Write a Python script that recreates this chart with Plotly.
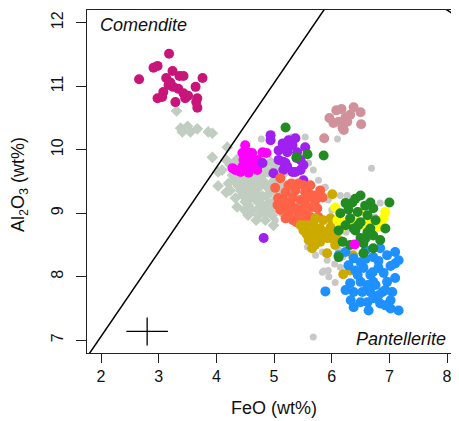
import plotly.graph_objects as go

# ---------------- data (FeO wt%, Al2O3 wt%) ----------------
gray_feo = [4.78, 5.54, 6.10, 6.69, 5.60, 5.51, 5.87, 6.15, 6.27, 6.84, 5.58, 5.84, 5.92, 5.84, 6.06,
            6.15, 6.75, 5.75, 5.63, 5.94, 5.92, 6.10, 5.68, 4.85, 5.02, 5.89, 5.72, 6.12, 5.94, 6.15,
            5.75, 5.97, 5.86, 6.19, 5.13, 5.39, 5.18, 5.68, 5.77, 5.30, 6.00, 6.25, 6.05, 5.95]
gray_al = [10.17, 10.20, 10.17, 9.71, 9.79, 9.44, 9.40, 9.28, 9.28, 9.16, 8.47, 8.39, 8.26, 8.07, 7.91,
           8.31, 8.94, 9.28, 9.24, 9.21, 8.71, 8.53, 7.05, 8.89, 8.89, 9.41, 8.34, 8.42, 8.10, 8.15,
           8.62, 8.76, 8.09, 8.31, 10.07, 9.99, 9.02, 9.68, 9.52, 10.20, 9.05, 8.70, 8.20, 8.00]

diam_feo = [3.31, 3.38, 3.50, 3.55, 3.67, 3.86, 3.93, 3.41, 4.19, 3.93, 4.03, 4.17, 4.36, 4.85, 4.55,
            4.24, 4.35, 4.28, 4.42, 4.50, 4.38, 4.55, 4.68, 4.80, 4.90, 4.45, 4.59, 4.73, 4.85, 4.97,
            5.07, 4.33, 4.50, 4.68, 4.80, 4.94, 5.07, 4.62, 4.76, 4.90, 5.02, 5.18, 4.73, 4.90, 5.11,
            5.25, 4.21, 4.10, 4.62, 4.76, 4.94, 5.02, 5.20, 4.52, 4.69, 4.83, 4.97, 4.59, 4.42, 4.24,
            5.18, 5.28, 5.37, 4.99, 4.80, 4.49, 4.64,
            4.31, 4.49, 4.76, 4.90, 5.04, 4.42, 4.59, 4.73, 4.87, 5.00, 4.49, 4.35, 4.69, 4.83, 5.11,
            5.14, 5.21, 4.80, 4.55, 4.17, 4.03, 4.69, 5.28]
diam_al = [10.61, 10.34, 10.37, 10.28, 10.33, 10.28, 10.26, 10.28, 10.04, 9.88, 9.65, 9.33, 9.10, 8.89, 9.13,
           9.76, 9.84, 9.60, 9.55, 9.68, 9.43, 9.49, 9.55, 9.60, 9.65, 9.29, 9.33, 9.40, 9.44, 9.49,
           9.55, 9.24, 9.18, 9.21, 9.27, 9.33, 9.36, 9.05, 9.10, 9.16, 9.21, 9.24, 8.97, 9.02, 9.08,
           9.13, 9.47, 9.68, 9.76, 9.84, 9.81, 9.71, 9.65, 9.36, 9.30, 9.11, 8.97, 9.60, 9.71, 9.36,
           8.97, 9.29, 9.13, 8.81, 9.52, 9.44, 9.43,
           9.52, 9.58, 9.46, 9.40, 9.44, 9.36, 9.24, 9.18, 9.27, 9.08, 9.05, 9.63, 9.68, 9.76, 9.76,
           9.44, 9.36, 9.02, 8.97, 9.84, 9.43, 8.89, 9.02]

crimson_feo = [3.18, 2.98, 2.91, 2.66, 3.24, 3.13, 3.36, 3.43, 3.76, 3.17, 3.25, 3.34, 3.64, 3.08, 3.43,
               2.98, 3.06, 3.29, 3.46, 3.67, 3.65, 3.67, 3.20, 3.51]
crimson_al = [11.51, 11.32, 11.29, 11.11, 11.24, 11.13, 11.16, 11.16, 11.13, 11.02, 10.99, 10.96, 10.99, 10.91, 10.89,
              10.81, 10.83, 10.75, 10.81, 10.81, 10.75, 10.66, 11.06, 10.85]

pink_feo = [6.17, 6.38, 6.50, 5.96, 6.03, 6.12, 6.24, 6.32, 6.19, 6.21, 6.51, 5.87, 6.08, 6.27]
pink_al = [10.64, 10.67, 10.59, 10.50, 10.42, 10.44, 10.51, 10.55, 10.34, 10.31, 10.40, 10.18, 10.62, 10.44]

magenta_feo = [4.54, 4.45, 4.62, 4.80, 4.87, 4.47, 4.59, 4.71, 4.45, 4.56, 4.68, 4.33, 4.42, 4.56, 4.71, 4.50, 4.28]
magenta_al = [9.96, 9.95, 9.95, 9.96, 9.95, 9.84, 9.85, 9.84, 9.73, 9.76, 9.73, 9.68, 9.65, 9.64, 9.68, 10.07, 9.71]

purple_feo = [4.94, 5.15, 5.25, 5.37, 5.23, 5.40, 5.54, 5.08, 5.20, 4.99, 5.16, 5.32, 5.46, 5.51, 4.80,
              5.23, 5.46, 5.51, 5.23, 5.37, 5.16, 4.82, 4.94, 5.32, 5.39, 5.08]
purple_al = [10.23, 10.10, 10.15, 10.18, 10.02, 9.96, 10.04, 9.84, 9.79, 9.63, 9.68, 9.65, 9.68, 9.52, 9.79,
             9.96, 9.84, 9.76, 9.73, 9.65, 9.81, 8.61, 10.15, 10.07, 9.87, 9.99]

tomato_feo = [5.11, 5.02, 5.25, 5.51, 5.63, 5.84, 5.16, 5.33, 5.58, 5.75, 5.28, 5.46, 5.63, 5.33, 5.11,
              5.51, 5.37, 5.20, 5.46, 5.54, 5.72, 5.28, 5.42, 5.20, 5.66, 5.56, 5.30, 5.07, 5.80,
              5.42, 5.59, 5.18, 5.37, 5.54, 5.68, 5.77, 5.25, 5.06, 5.39]
tomato_al = [9.55, 9.40, 9.44, 9.44, 9.44, 9.25, 9.21, 9.25, 9.24, 9.08, 9.05, 9.05, 8.94, 8.89, 9.05,
             8.86, 9.36, 9.33, 9.21, 9.33, 9.21, 9.16, 8.97, 8.92, 9.10, 8.99, 9.47, 9.24, 9.36,
             9.47, 9.33, 9.11, 9.08, 9.13, 9.28, 8.94, 8.99, 9.13, 8.86]

gold_feo = [6.01, 5.51, 5.68, 5.85, 5.98, 5.77, 5.92, 5.66, 5.92, 6.06, 5.68, 6.32, 6.20, 6.37,
            5.80, 5.89, 5.63, 5.54, 5.72, 5.80, 6.03, 6.12, 5.60, 5.98, 5.46,
            5.72, 5.84, 5.98, 5.71, 5.56]
gold_al = [9.30, 8.73, 8.84, 8.89, 8.78, 8.65, 8.61, 8.45, 8.37, 8.50, 8.58, 8.10, 8.04, 8.34,
           8.76, 8.70, 8.70, 8.81, 8.92, 8.55, 8.67, 8.58, 8.58, 8.92, 8.81,
           8.76, 8.63, 8.61, 8.50, 8.68]

blue_feo = [6.24, 6.38, 7.10, 7.10, 5.89, 6.38, 7.16, 7.02, 6.67, 6.81, 6.55, 6.50, 6.72, 6.96, 6.38,
            6.62, 6.84, 7.02, 6.45, 6.67, 6.90, 6.96, 6.72, 6.50, 6.32, 6.62, 6.88, 7.05, 6.72, 6.12,
            6.29, 6.59, 6.84,
            6.59, 6.81, 7.02, 6.41, 6.71, 6.93, 6.53, 6.81, 6.50, 6.93, 7.10, 6.24, 6.64, 6.33, 6.76, 7.16]
blue_al = [8.39, 8.29, 8.39, 8.21, 7.77, 7.52, 7.47, 7.63, 7.76, 8.14, 8.14, 7.92, 7.92, 7.92, 7.76,
           7.60, 7.58, 7.50, 8.03, 8.03, 8.06, 8.34, 8.31, 8.23, 7.90, 7.87, 7.76, 7.76, 7.66, 8.34,
           8.18, 8.42, 8.45,
           8.28, 8.25, 8.17, 8.10, 8.07, 7.79, 7.76, 7.71, 7.60, 7.55, 7.98, 7.79, 7.47, 7.63, 7.87, 8.26]

yellow_feo = [6.06, 6.90, 6.81, 6.46, 6.24, 6.55, 6.15, 6.10, 6.38, 6.79, 6.58, 6.67, 6.93]
yellow_al = [9.09, 8.92, 8.81, 9.02, 8.86, 8.81, 8.76, 8.89, 8.86, 8.78, 8.61, 8.86, 9.02]

green_feo = [6.50, 6.36, 6.67, 6.72, 7.00, 6.24, 6.15, 6.45, 6.62, 6.32, 6.50, 6.38, 6.12, 6.62, 6.72,
             6.93, 6.50, 6.19, 6.55, 6.72, 6.55, 6.12, 5.20, 5.39, 5.58, 5.86, 6.41, 6.29, 6.58,
             6.41, 6.76, 6.24, 6.59, 6.32, 6.84, 6.46, 6.67]
green_al = [9.28, 9.17, 9.17, 9.08, 9.17, 9.16, 9.00, 9.02, 8.97, 8.92, 8.86, 8.76, 8.73, 8.70, 8.65,
            8.76, 8.61, 8.55, 8.53, 8.45, 8.37, 8.31, 10.35, 9.88, 9.93, 9.91, 8.73, 9.06, 9.12,
            9.23, 8.89, 8.81, 8.61, 8.50, 8.58, 8.81, 8.76]

single_feo = [6.40]
single_al = [8.51]

# boundary lines: Al2O3 = slope * FeO + intercept, drawn over FeO spans
line_slope = [1.33, -0.58]
line_icpt = [4.4, 16.84]
line_span = [(1.70, 5.95), (7.95, 8.40)]

# analytical uncertainty cross
err_feo, err_al = [2.80], [7.14]
err_dx, err_dy = [0.36], [0.22]

x_ticks = [2, 3, 4, 5, 6, 7, 8]
y_ticks = [7, 8, 9, 10, 11, 12]

FONT = "Liberation Sans, Arial, sans-serif"

fig = go.Figure()

def dots(x, y, color, size=10, symbol="circle"):
    fig.add_trace(go.Scatter(x=x, y=y, mode="markers",
                             marker=dict(color=color, size=size, symbol=symbol, line=dict(width=0)),
                             showlegend=False, hoverinfo="skip"))

dots(gray_feo, gray_al, "#C8C8C8", size=7)
dots(diam_feo, diam_al, "#C1CDC1", size=9, symbol="diamond")
dots(crimson_feo, crimson_al, "#C8157A")
dots(pink_feo, pink_al, "#D1919B")
dots(magenta_feo, magenta_al, "#FF00FF")
dots(purple_feo, purple_al, "#A020F0")
dots(tomato_feo, tomato_al, "#FF6347")
dots(gold_feo, gold_al, "#CDAA00")
dots(blue_feo, blue_al, "#1E90FF")
dots(yellow_feo, yellow_al, "#FFFF00")
dots(green_feo, green_al, "#228B22")
dots(single_feo, single_al, "#FF00FF")

for m, c, (x0, x1) in zip(line_slope, line_icpt, line_span):
    fig.add_trace(go.Scatter(x=[x0, x1], y=[m * x0 + c, m * x1 + c], mode="lines",
                             line=dict(color="black", width=1.5),
                             showlegend=False, hoverinfo="skip"))

fig.add_trace(go.Scatter(x=err_feo, y=err_al, mode="markers",
                         marker=dict(size=0.1, color="black"),
                         error_x=dict(type="data", array=err_dx, width=0, thickness=1.3, color="black"),
                         error_y=dict(type="data", array=err_dy, width=0, thickness=1.3, color="black"),
                         showlegend=False, hoverinfo="skip"))

axis_common = dict(showgrid=False, zeroline=False, showline=True, linecolor="#222222", linewidth=1.3,
                   ticks="outside", tickcolor="#222222", tickwidth=1.2,
                   tickfont=dict(family=FONT, size=16, color="#111111"))

# the page body has an 8px default margin; size the figure so the plot box lands where the reference has it
fig.update_layout(
    width=451, height=413,
    margin=dict(l=79, r=0, t=2, b=68),
    paper_bgcolor="white", plot_bgcolor="white",
    xaxis=dict(range=[1.757, 8.207], tickvals=x_ticks, ticklen=9, mirror=True, **axis_common),
    yaxis=dict(range=[6.8, 12.2], tickvals=y_ticks, ticklen=10, tickangle=-90, mirror=False,
               ticklabelstandoff=6, **axis_common),
    annotations=[
        dict(text="FeO (wt%)", xref="paper", yref="paper", x=0.503, y=-0.160, showarrow=False,
             xanchor="center", yanchor="middle", font=dict(family=FONT, size=18, color="#111111")),
        dict(text="Al<sub>2</sub>O<sub>3</sub> (wt%)", xref="paper", yref="paper", x=-0.18, y=0.49,
             showarrow=False, textangle=-90, xanchor="center", yanchor="middle",
             font=dict(family=FONT, size=18, color="#111111")),
        dict(text="<i>Comendite</i>", xref="paper", yref="paper", x=0.0296, y=0.956, showarrow=False,
             xanchor="left", yanchor="middle", font=dict(family=FONT, size=18, color="#111111")),
        dict(text="<i>Pantellerite</i>", xref="paper", yref="paper", x=0.970, y=0.041, showarrow=False,
             xanchor="right", yanchor="middle", font=dict(family=FONT, size=18, color="#111111")),
    ],
)

fig.write_html("out.html")
